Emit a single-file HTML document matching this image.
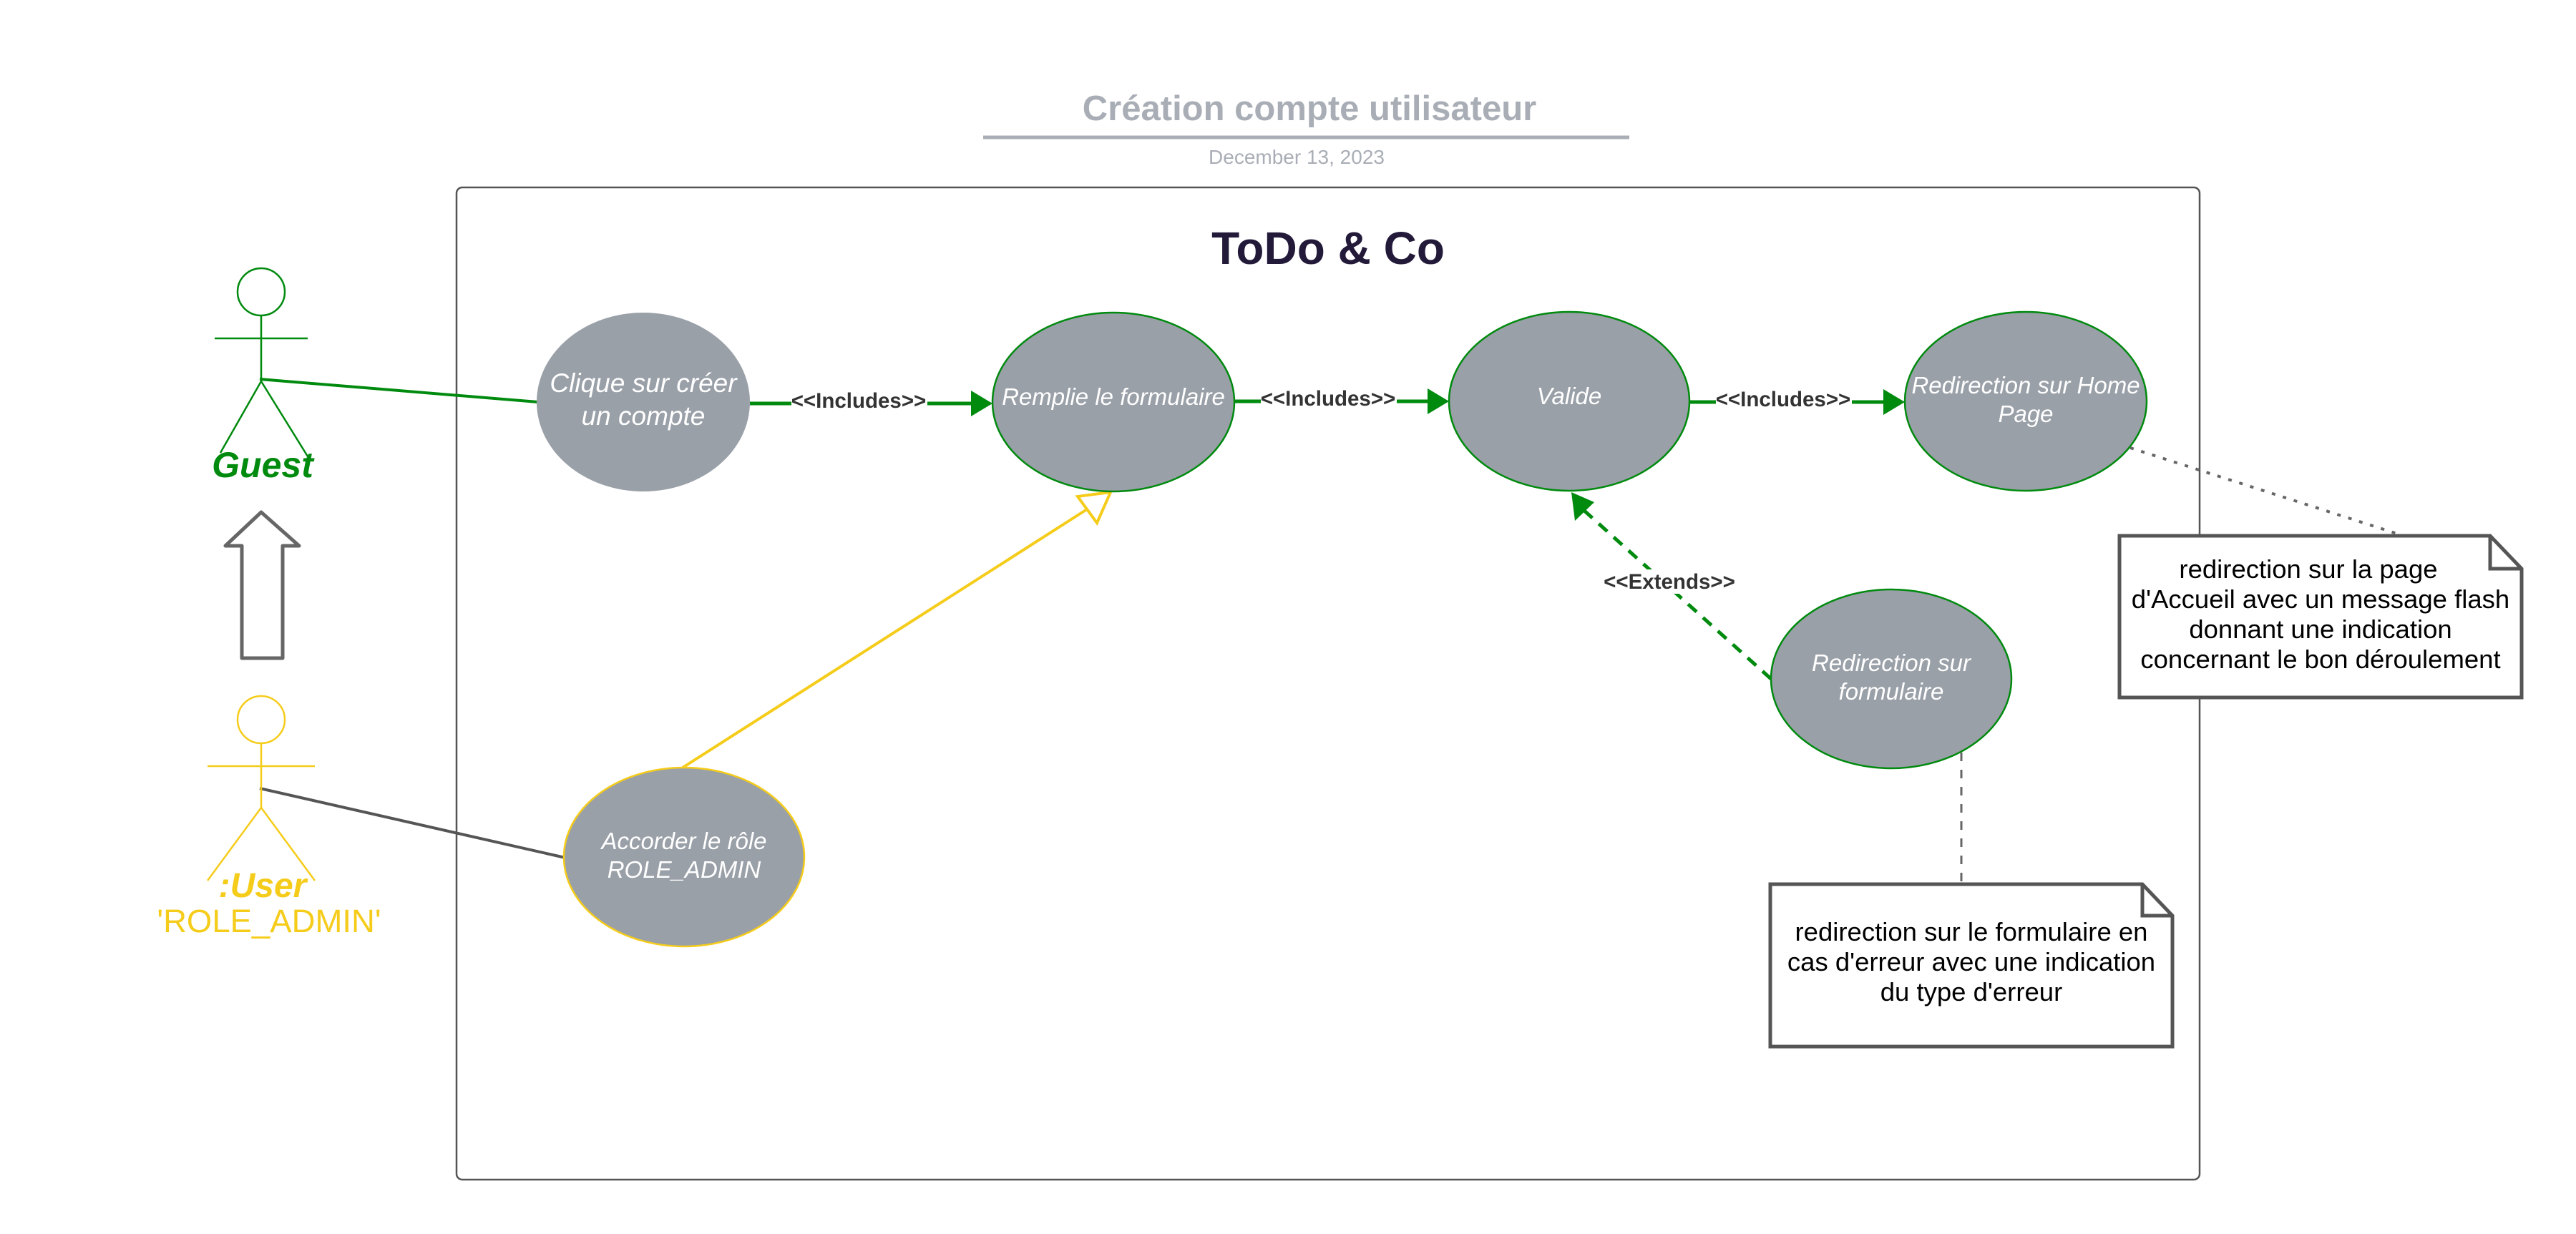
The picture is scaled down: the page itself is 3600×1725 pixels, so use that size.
<!DOCTYPE html>
<html><head><meta charset="utf-8"><style>html,body{margin:0;padding:0;background:#fff}svg{display:block}</style></head>
<body>
<svg width="3600" height="1725" viewBox="0 0 3600 1725" xmlns="http://www.w3.org/2000/svg" font-family="Liberation Sans, Arial, sans-serif">
<rect width="3600" height="1725" fill="#fff"/>
<text x="1830" y="168" text-anchor="middle" font-size="49" font-weight="bold" fill="#a9aeb6">Création compte utilisateur</text>
<line x1="1374" y1="192" x2="2277" y2="192" stroke="#a9aeb6" stroke-width="5"/>
<text x="1812" y="229" text-anchor="middle" font-size="28" fill="#a9aeb6">December 13, 2023</text>
<rect x="638" y="262" width="2436" height="1387" rx="8" fill="none" stroke="#555" stroke-width="2.5"/>
<text x="1856" y="369" text-anchor="middle" font-size="64" font-weight="bold" fill="#231a3a">ToDo &amp; Co</text>

<line x1="363" y1="530" x2="752" y2="562" stroke="#008a0e" stroke-width="4"/>
<line x1="363" y1="1102" x2="790" y2="1199" stroke="#555" stroke-width="4"/>
<line x1="954" y1="1073" x2="1519" y2="712" stroke="#f5cc1a" stroke-width="4"/>
<polygon points="1552,688 1506,694 1533,731" fill="#fff" stroke="#f5cc1a" stroke-width="4"/>

<g stroke="#008a0e" stroke-width="5" fill="#008a0e">
<line x1="1048" y1="564" x2="1360" y2="564"/>
<polygon points="1387,564 1357,546 1357,582" stroke="none"/>
<line x1="1724" y1="561" x2="2000" y2="561"/>
<polygon points="2025,561 1995,543 1995,579" stroke="none"/>
<line x1="2361" y1="562" x2="2636" y2="562"/>
<polygon points="2662,562 2632,544 2632,580" stroke="none"/>
<line x1="2475" y1="949" x2="2212" y2="712" stroke-dasharray="16,12"/>
<polygon points="2196,688 2201,728 2228,702" stroke="none"/>
</g>
<g font-size="29.5" font-weight="bold" fill="#333" text-anchor="middle">
<rect x="1106" y="545" width="190" height="34" fill="#fff"/>
<text x="1200" y="570">&lt;&lt;Includes&gt;&gt;</text>
<rect x="1762" y="542" width="190" height="34" fill="#fff"/>
<text x="1856" y="567">&lt;&lt;Includes&gt;&gt;</text>
<rect x="2398" y="543" width="190" height="34" fill="#fff"/>
<text x="2492" y="568">&lt;&lt;Includes&gt;&gt;</text>
<rect x="2236" y="796" width="196" height="34" fill="#fff"/>
<text x="2333" y="823">&lt;&lt;Extends&gt;&gt;</text>
</g>
<line x1="2977" y1="626" x2="3350" y2="746" stroke="#666" stroke-width="4" stroke-dasharray="5,11"/>
<line x1="2741" y1="1052" x2="2741" y2="1236" stroke="#666" stroke-width="3" stroke-dasharray="12,12"/>

<g fill="#9aa0a8" stroke-width="2.5">
<ellipse cx="899" cy="562" rx="149" ry="125" stroke="none"/>
<ellipse cx="1556" cy="562" rx="169" ry="125" stroke="#008a0e"/>
<ellipse cx="2193" cy="561" rx="168" ry="125" stroke="#008a0e"/>
<ellipse cx="2831" cy="561" rx="169" ry="125" stroke="#008a0e"/>
<ellipse cx="2643" cy="949" rx="168" ry="125" stroke="#008a0e"/>
<ellipse cx="956" cy="1198" rx="168" ry="125" stroke="#f5cc1a"/>
</g>
<g fill="#fff" font-style="italic" text-anchor="middle">
<text x="899" y="548" font-size="37">Clique sur créer</text>
<text x="899" y="594" font-size="37">un compte</text>
<text x="1556" y="566" font-size="33">Remplie le formulaire</text>
<text x="2193" y="565" font-size="33">Valide</text>
<text x="2831" y="550" font-size="33">Redirection sur Home</text>
<text x="2831" y="590" font-size="33">Page</text>
<text x="2643" y="938" font-size="33">Redirection sur</text>
<text x="2643" y="978" font-size="33">formulaire</text>
<text x="956" y="1187" font-size="33">Accorder le rôle</text>
<text x="956" y="1227" font-size="33">ROLE_ADMIN</text>
</g>

<g fill="#fff" stroke="#555" stroke-width="5">
<polygon points="2962,749 3480,749 3524,795 3524,975 2962,975"/>
<polyline points="3480,749 3480,795 3524,795" fill="none"/>
<polygon points="2474,1236 2994,1236 3036,1280 3036,1463 2474,1463"/>
<polyline points="2994,1236 2994,1280 3036,1280" fill="none"/>
</g>
<g font-size="36.5" fill="#000" text-anchor="middle">
<text x="3226" y="808">redirection sur la page</text>
<text x="3243" y="850">d'Accueil avec un message flash</text>
<text x="3243" y="892">donnant une indication</text>
<text x="3243" y="934">concernant le bon déroulement</text>
<text x="2755" y="1315">redirection sur le formulaire en</text>
<text x="2755" y="1357">cas d'erreur avec une indication</text>
<text x="2755" y="1399">du type d'erreur</text>
</g>

<g stroke="#008a0e" stroke-width="2.5" fill="none">
<ellipse cx="365" cy="408" rx="33" ry="33"/>
<line x1="365" y1="441" x2="365" y2="533"/>
<line x1="300" y1="473" x2="430" y2="473"/>
<line x1="365" y1="533" x2="308" y2="633"/>
<line x1="365" y1="533" x2="430" y2="638"/>
</g>
<text x="367" y="667" text-anchor="middle" font-size="50" font-weight="bold" font-style="italic" fill="#008a0e">Guest</text>

<path d="M365,716 L418,763 L395,763 L395,920 L338,920 L338,763 L315,763 Z" fill="#fff" stroke="#666" stroke-width="5" stroke-linejoin="round"/>

<g stroke="#f5cc1a" stroke-width="2.5" fill="none">
<ellipse cx="365" cy="1006" rx="33" ry="33"/>
<line x1="365" y1="1039" x2="365" y2="1129"/>
<line x1="290" y1="1071" x2="440" y2="1071"/>
<line x1="365" y1="1129" x2="290" y2="1231"/>
<line x1="365" y1="1129" x2="440" y2="1231"/>
</g>
<text x="367" y="1254" text-anchor="middle" font-size="48" font-weight="bold" font-style="italic" fill="#f5cc1a">:User</text>
<text x="376" y="1303" text-anchor="middle" font-size="45.5" fill="#f5cc1a">'ROLE_ADMIN'</text>
</svg>
</body></html>
